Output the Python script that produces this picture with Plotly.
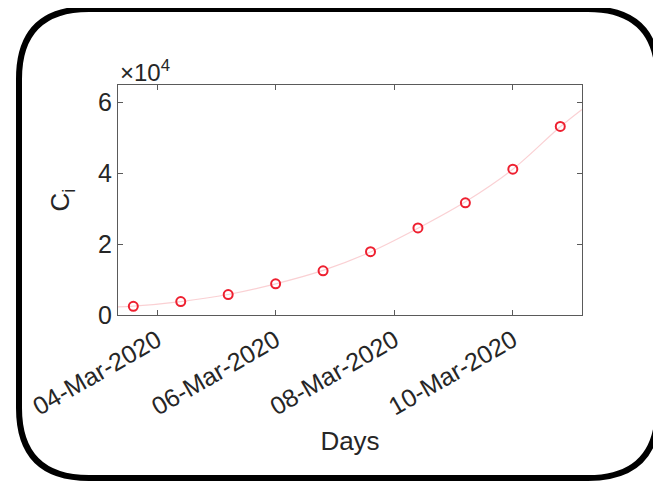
import plotly.graph_objects as go

# ---- data ----
dates = [
    "2020-03-03 14:24", "2020-03-04 09:36", "2020-03-05 04:48", "2020-03-06 00:00",
    "2020-03-06 19:12", "2020-03-07 14:24", "2020-03-08 09:36", "2020-03-09 04:48",
    "2020-03-10 00:00", "2020-03-10 19:12",
]
cases = [2460, 3780, 5770, 8800, 12500, 17900, 24600, 31700, 41200, 53300]

fit_dates = ["2020-03-03 08:12"] + dates + ["2020-03-11 04:00"]
fit_values = [2300, 2500, 3800, 5800, 8800, 12600, 17800, 24500, 32000, 41200, 53200, 58100]

x_tick_vals = ["2020-03-04", "2020-03-06", "2020-03-08", "2020-03-10"]
x_tick_text = ["04-Mar-2020", "06-Mar-2020", "08-Mar-2020", "10-Mar-2020"]
y_tick_vals = [0, 20000, 40000, 60000]
y_tick_text = ["0", "2", "4", "6"]
x_range = ["2020-03-03 08:12", "2020-03-11 04:00"]
y_range = [0, 65000]

# ---- figure ----
# page body has an 8px margin, so all pixel geometry is offset by -8
OFF = 8
W, H = 661, 484
ML = 118 - OFF
PR = 582 - OFF
MT = 85 - OFF
PB = 315 - OFF
MR, MB = W - PR, H - PB
PW, PH = W - ML - MR, H - MT - MB

FONT = "Liberation Sans, Arial, Helvetica, sans-serif"
TXT = "#262626"

fig = go.Figure()
fig.add_trace(go.Scatter(
    x=fit_dates, y=fit_values, mode="lines",
    line=dict(color="rgba(240,120,130,0.35)", width=1.2, shape="spline"),
    hoverinfo="skip", showlegend=False,
))
fig.add_trace(go.Scatter(
    x=dates, y=cases, mode="markers",
    marker=dict(symbol="circle-open", size=9, color="#ee2030", line=dict(width=2, color="#ee2030")),
    showlegend=False,
))

axis_common = dict(
    showgrid=False, zeroline=False, showline=True, linecolor="#5a5a5a", linewidth=1,
    mirror="ticks", ticks="inside", ticklen=5, tickcolor="#5a5a5a",
    tickfont=dict(family=FONT, size=25, color=TXT),
)

fig.update_layout(
    width=W, height=H,
    margin=dict(l=ML, r=MR, t=MT, b=MB, pad=0),
    paper_bgcolor="white", plot_bgcolor="white",
    font=dict(family=FONT, color=TXT),
    xaxis=dict(
        type="date", range=x_range, tickvals=x_tick_vals, ticktext=x_tick_text,
        tickangle=-30,
        title=dict(text="Days", font=dict(family=FONT, size=26, color=TXT), standoff=12),
        **axis_common,
    ),
    yaxis=dict(
        range=y_range, tickvals=y_tick_vals, ticktext=y_tick_text,
        title=dict(text="C<sub>i</sub>", font=dict(family=FONT, size=26, color=TXT), standoff=20),
        **axis_common,
    ),
)

fig.add_annotation(
    text="\u00d710<sup>4</sup>", xref="paper", yref="paper", x=0, y=1,
    xanchor="left", yanchor="bottom", showarrow=False, yshift=-3,
    font=dict(family=FONT, size=24, color=TXT),
)

# rounded frame around the whole figure (pixel geometry -> paper coords)
def px(xp):
    return (xp - OFF - ML) / PW

def py(yp):
    return (PB - (yp - OFF)) / PH

L, R, T, B, r = 19, 658, 9, 478, 70
path = (
    f"M {px(L + r)} {py(T)} L {px(R - r)} {py(T)} "
    f"Q {px(R)} {py(T)} {px(R)} {py(T + r)} "
    f"L {px(R)} {py(B - r)} "
    f"Q {px(R)} {py(B)} {px(R - r)} {py(B)} "
    f"L {px(L + r)} {py(B)} "
    f"Q {px(L)} {py(B)} {px(L)} {py(B - r)} "
    f"L {px(L)} {py(T + r)} "
    f"Q {px(L)} {py(T)} {px(L + r)} {py(T)} Z"
)
fig.add_shape(type="path", xref="paper", yref="paper", path=path,
              line=dict(color="black", width=6), fillcolor="rgba(0,0,0,0)", layer="above")

fig.write_html("out.html")
